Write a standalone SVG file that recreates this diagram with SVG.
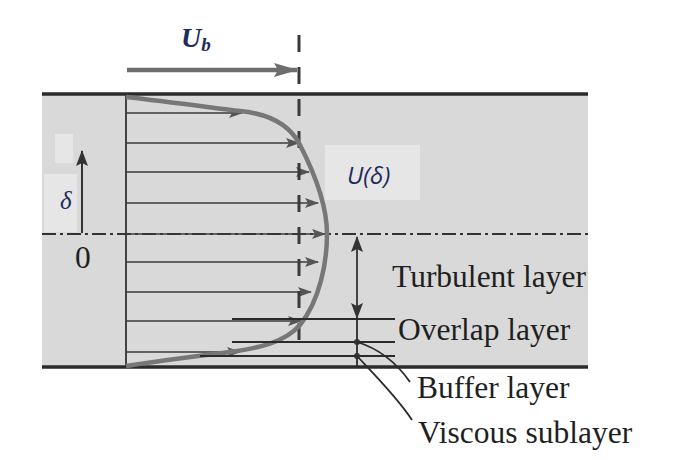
<svg xmlns="http://www.w3.org/2000/svg" width="696" height="460" viewBox="0 0 696 460">
<defs>
<marker id="ah" viewBox="0 0 14 10" refX="13" refY="5" markerWidth="14" markerHeight="10" markerUnits="userSpaceOnUse" orient="auto">
<path d="M0,0 L14,5 L0,10 L3,5 Z" fill="#555"/>
</marker>
<marker id="ahs" viewBox="0 0 16 12" refX="15" refY="6" markerWidth="16" markerHeight="12" markerUnits="userSpaceOnUse" orient="auto-start-reverse">
<path d="M0,0 L16,6 L0,12 L3,6 Z" fill="#333"/>
</marker>
<marker id="ahb" viewBox="0 0 24 14" refX="23" refY="7" markerWidth="24" markerHeight="14" markerUnits="userSpaceOnUse" orient="auto">
<path d="M0,0 L24,7 L0,14 L4,7 Z" fill="#6e6e6e"/>
</marker>
</defs>
<style>
.lbl{font-family:"Liberation Serif","Times New Roman",serif;font-size:31.5px;fill:#1f1f1f}
.vel{stroke:#3a3a3a;stroke-width:1.7;fill:none;marker-end:url(#ah)}
.thin{stroke:#2a2a2a;stroke-width:1.8;fill:none}
.navy{fill:#1d2a5c}
</style>
<rect width="696" height="460" fill="#ffffff"/>
<g id="channel">
<rect x="42" y="94" width="546" height="273" fill="#d9d9d9"/>
<rect x="55" y="134" width="18" height="29" fill="#e6e6e6"/>
<rect x="44" y="174" width="33" height="58" fill="#e6e6e6"/>
<rect x="325" y="145" width="95" height="55" fill="#e6e6e6"/>
<line x1="42" y1="94" x2="588" y2="94" stroke="#2b2b2b" stroke-width="3.5"/>
<line x1="42" y1="367" x2="588" y2="367" stroke="#2b2b2b" stroke-width="3.5"/>
<line x1="126" y1="95" x2="126" y2="366" stroke="#333" stroke-width="1.8"/>
<line x1="42" y1="234" x2="588" y2="234" stroke="#333" stroke-width="2" stroke-dasharray="14,4,3,4"/>
</g>
<g id="connectors">
<line class="vel" x1="126" y1="113" x2="242" y2="113"/>
<line class="vel" x1="126" y1="143" x2="299" y2="143"/>
<line class="vel" x1="126" y1="172" x2="309" y2="172"/>
<line class="vel" x1="126" y1="203" x2="318" y2="203"/>
<line class="vel" x1="126" y1="234" x2="325" y2="234"/>
<line class="vel" x1="126" y1="262" x2="318" y2="262"/>
<line class="vel" x1="126" y1="292" x2="311" y2="292"/>
<line class="vel" x1="126" y1="321" x2="301" y2="321"/>
<line class="vel" x1="126" y1="352" x2="240" y2="352"/>
<line x1="299" y1="35" x2="299" y2="352" stroke="#3a3a3a" stroke-width="3" stroke-dasharray="17,15"/>
<line x1="127" y1="70" x2="297" y2="70" stroke="#6e6e6e" stroke-width="4.5" marker-end="url(#ahb)"/>
<path d="M126,97 C170,102 215,108 240,111 C270,114 290,125 300,145 C318,180 327,210 327,234 C327,262 320,300 300,325 C285,342 260,348 230,352 C190,357 150,362 126,366" fill="none" stroke="#777" stroke-width="4.5"/>
<line x1="82" y1="233" x2="82" y2="151" stroke="#333" stroke-width="2" marker-end="url(#ahs)"/>
<line x1="232" y1="319" x2="395" y2="319" class="thin"/>
<line x1="232" y1="342" x2="395" y2="342" class="thin"/>
<line x1="200" y1="356" x2="395" y2="356" class="thin"/>
<line x1="357" y1="237" x2="357" y2="318" stroke="#333" stroke-width="1.8" marker-start="url(#ahs)" marker-end="url(#ahs)"/>
<line x1="357" y1="318" x2="357" y2="367" class="thin"/>
<circle cx="357" cy="342" r="3" fill="#333"/>
<circle cx="357" cy="356" r="3" fill="#333"/>
<path d="M357,342 C377,348 396,362 410,382" class="thin"/>
<path d="M357,356 C372,372 398,398 412,420" class="thin"/>
</g>
<g id="labels">
<text x="181" y="47" font-family="Liberation Serif, serif" font-weight="bold" font-style="italic" font-size="28" class="navy">U<tspan font-size="19" dy="4">b</tspan></text>
<text x="347" y="184" font-family="Open Sans, sans-serif" font-style="italic" font-size="24" class="navy">U(δ)</text>
<text x="60" y="209" font-family="Liberation Serif, serif" font-style="italic" font-size="25" class="navy">δ</text>
<text x="75" y="268" class="lbl">0</text>
<text x="392" y="287" class="lbl">Turbulent layer</text>
<text x="398" y="340" class="lbl">Overlap layer</text>
<text x="417" y="398" class="lbl">Buffer layer</text>
<text x="418" y="443" class="lbl">Viscous sublayer</text>
</g>
</svg>
